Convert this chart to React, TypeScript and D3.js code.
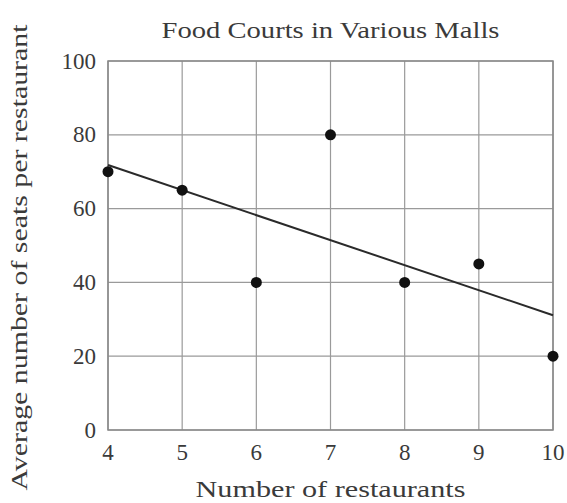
import React, { useEffect, useRef } from 'react';
import * as d3 from 'd3';

const restaurants = [4, 5, 6, 7, 8, 9, 10];
const seats = [70, 65, 40, 80, 40, 45, 20];
const yTicks = [0, 20, 40, 60, 80, 100];
const trendX = [4, 10];
const trendY = [71.8, 31.1];

const App: React.FC = () => {
  const svgRef = useRef<SVGSVGElement>(null);

  useEffect(() => {
    if (!svgRef.current) return;
    const width = 567;
    const height = 503;
    const margin = { top: 61, right: 14, bottom: 73, left: 108 };

    const svg = d3.select(svgRef.current);
    svg.selectAll('*').remove();

    const x = d3.scaleLinear().domain([4, 10]).range([margin.left, width - margin.right]);
    const y = d3.scaleLinear().domain([0, 100]).range([height - margin.bottom, margin.top]);

    const font = "'Liberation Serif', 'Times New Roman', Times, serif";
    const ink = '#3a3a3a';

    svg.append('rect').attr('width', width).attr('height', height).attr('fill', '#fff');

    // grid
    const grid = svg.append('g').attr('stroke', '#9a9a9a').attr('stroke-width', 1.2);
    grid.selectAll('line.v')
      .data(restaurants)
      .join('line')
      .attr('class', 'v')
      .attr('x1', d => x(d)).attr('x2', d => x(d))
      .attr('y1', y(0)).attr('y2', y(100));
    grid.selectAll('line.h')
      .data(yTicks)
      .join('line')
      .attr('class', 'h')
      .attr('x1', x(4)).attr('x2', x(10))
      .attr('y1', d => y(d)).attr('y2', d => y(d));

    // plot border
    svg.append('rect')
      .attr('x', x(4)).attr('y', y(100))
      .attr('width', x(10) - x(4)).attr('height', y(0) - y(100))
      .attr('fill', 'none').attr('stroke', '#888').attr('stroke-width', 1.5);

    // y tick labels
    svg.append('g').selectAll('text')
      .data(yTicks)
      .join('text')
      .attr('x', x(4) - 12)
      .attr('y', d => y(d))
      .attr('dy', '0.33em')
      .attr('text-anchor', 'end')
      .style('font-family', font)
      .style('font-size', '23px')
      .style('fill', ink)
      .text(d => d);

    // x tick labels
    svg.append('g').selectAll('text')
      .data(restaurants)
      .join('text')
      .attr('x', d => x(d))
      .attr('y', y(0) + 30)
      .attr('text-anchor', 'middle')
      .style('font-family', font)
      .style('font-size', '23px')
      .style('fill', ink)
      .text(d => d);

    // trend line
    const line = d3.line<number>()
      .x((_, i) => x(trendX[i]))
      .y(d => y(d));
    svg.append('path')
      .datum(trendY)
      .attr('d', line)
      .attr('fill', 'none')
      .attr('stroke', '#2a2a2a')
      .attr('stroke-width', 2);

    // points
    svg.append('g').selectAll('circle')
      .data(restaurants)
      .join('circle')
      .attr('cx', d => x(d))
      .attr('cy', (_, i) => y(seats[i]))
      .attr('r', 5.5)
      .attr('fill', '#111');

    // title
    svg.append('text')
      .attr('x', (x(4) + x(10)) / 2)
      .attr('y', 38)
      .attr('text-anchor', 'middle')
      .attr('textLength', 338)
      .attr('lengthAdjust', 'spacingAndGlyphs')
      .style('font-family', font)
      .style('font-size', '24px')
      .style('fill', ink)
      .text('Food Courts in Various Malls');

    // x label
    svg.append('text')
      .attr('x', (x(4) + x(10)) / 2)
      .attr('y', 497)
      .attr('text-anchor', 'middle')
      .attr('textLength', 270)
      .attr('lengthAdjust', 'spacingAndGlyphs')
      .style('font-family', font)
      .style('font-size', '23px')
      .style('fill', ink)
      .text('Number of restaurants');

    // y label
    svg.append('text')
      .attr('transform', `translate(27, ${(y(0) + y(100)) / 2 + 12}) rotate(-90)`)
      .attr('text-anchor', 'middle')
      .attr('textLength', 466)
      .attr('lengthAdjust', 'spacingAndGlyphs')
      .style('font-family', font)
      .style('font-size', '23px')
      .style('fill', ink)
      .text('Average number of seats per restaurant');
  }, []);

  return (
    <div style={{ position: 'absolute', left: 0, top: 0, width: 567, height: 503 }}>
      <svg ref={svgRef} width={567} height={503} style={{ display: 'block' }} />
    </div>
  );
};

export default App;
